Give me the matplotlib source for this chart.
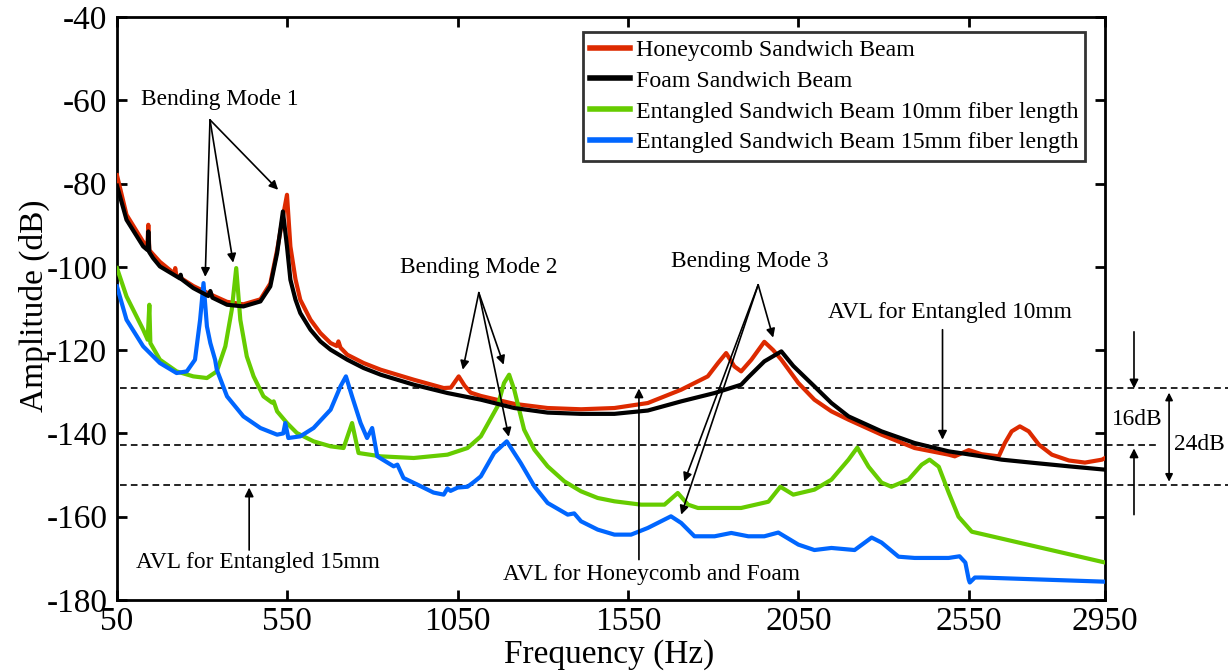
import matplotlib
matplotlib.use("Agg")
import matplotlib.pyplot as plt

plt.rcParams['font.family'] = ['Liberation Serif', 'DejaVu Serif']
plt.rcParams['axes.unicode_minus'] = False

# ---------------- data ----------------
foam_f = [50, 78, 127, 140, 142, 145, 156, 176, 225, 235, 237, 240, 274, 318, 324, 330, 373, 421, 471,
          500, 520, 537, 549, 559, 574, 588, 618, 647, 677, 726, 774, 824, 921, 1020, 1118, 1216, 1314,
          1412, 1510, 1608, 1706, 1804, 1882, 1903, 1950, 2000, 2035, 2097, 2147, 2197, 2294, 2391,
          2491, 2588, 2647, 2744, 2844, 2950]
foam_a = [-80.5, -88.7, -95.1, -96, -91.5, -96.5, -97.9, -99.9, -102.3, -102.8, -101.9, -103, -105.1,
          -107, -105.8, -107.4, -109.1, -109.5, -108.3, -104.7, -96.7, -86.7, -95.1, -103.1, -107.9,
          -111.1, -115.1, -117.9, -119.9, -122.3, -124.3, -125.9, -128.3, -130.3, -131.9, -133.9, -135,
          -135.3, -135.3, -134.5, -132.3, -130.3, -128.3, -126.5, -122.7, -120.3, -123.8, -128.7,
          -132.7, -135.9, -139.5, -142.3, -144.3, -145.5, -146.3, -147.1, -147.9, -148.7]

honey_f = [50, 78, 127, 139, 142, 145, 176, 218, 221, 224, 274, 324, 373, 421, 471, 500, 520, 537, 549,
           559, 574, 588, 618, 647, 677, 695, 700, 706, 726, 774, 824, 921, 1009, 1030, 1053, 1070, 1088,
           1118, 1216, 1314, 1412, 1510, 1608, 1706, 1784, 1814, 1838, 1862, 1882, 1912, 1950, 1976,
           2000, 2050, 2097, 2147, 2197, 2294, 2391, 2491, 2509, 2550, 2588, 2638, 2656, 2676, 2700,
           2726, 2756, 2794, 2844, 2891, 2941, 2950]
honey_a = [-78, -87.5, -94, -95.5, -89.9, -96, -98.8, -101.6, -100.3, -102, -104.6, -106.6, -108.4,
           -109, -107.8, -104, -96, -88, -82.7, -95.1, -103, -107.9, -112.7, -115.9, -118.3, -119,
           -117.9, -119.4, -121.1, -123.1, -124.7, -127.1, -129.1, -129, -126.3, -128.5, -130.2, -131,
           -132.9, -133.9, -134.2, -133.9, -132.7, -129.5, -126.3, -123.1, -120.7, -123.9, -125.1,
           -122.3, -118, -120, -122.3, -127.9, -131.9, -134.7, -136.7, -140.3, -143.5, -145.1, -145.5,
           -144, -145, -145.5, -142.3, -139.5, -138.3, -139.5, -142.7, -145.1, -146.5, -147, -146.3,
           -145.9]

ent10_f = [50, 78, 127, 140, 145, 148, 176, 225, 274, 314, 343, 368, 387, 400, 412, 431, 451, 480, 505,
           510, 520, 549, 578, 627, 677, 715, 740, 759, 824, 921, 1020, 1079, 1118, 1167, 1186, 1201,
           1216, 1245, 1275, 1314, 1363, 1412, 1461, 1510, 1588, 1657, 1696, 1726, 1755, 1882, 1962,
           1997, 2035, 2097, 2147, 2197, 2223, 2256, 2294, 2323, 2373, 2412, 2435, 2462, 2491, 2520,
           2559, 2950]
ent10_a = [-100.3, -107.1, -115.1, -117.5, -109.1, -118.3, -122.3, -125.1, -126.3, -126.7, -125.1,
           -119.1, -110.3, -100.3, -112.7, -121.5, -126.3, -131.1, -132.6, -132.3, -134.7, -137.5,
           -139.9, -141.9, -143.1, -143.5, -137.5, -144.7, -145.5, -145.9, -145.1, -143.5, -140.7,
           -133.5, -127.9, -125.9, -129.5, -139.1, -143.9, -147.9, -151.5, -153.9, -155.5, -156.3,
           -157.1, -157.1, -154.3, -157.1, -157.9, -157.9, -156.4, -152.8, -154.7, -153.5, -151.1,
           -146.3, -143.4, -148, -151.8, -152.8, -151.1, -147.5, -146.3, -148, -154.2, -160, -163.6,
           -171]

ent15_f = [50, 78, 127, 176, 225, 255, 279, 294, 304, 314, 324, 338, 343, 373, 421, 471, 520, 538, 544,
           553, 588, 627, 677, 706, 722, 740, 765, 784, 799, 814, 862, 873, 891, 932, 979, 1009, 1020,
           1029, 1050, 1079, 1100, 1118, 1157, 1194, 1235, 1275, 1314, 1373, 1392, 1412, 1461, 1510,
           1559, 1608, 1676, 1706, 1745, 1804, 1853, 1903, 1950, 1991, 2050, 2097, 2147, 2215, 2265,
           2294, 2344, 2391, 2491, 2523, 2540, 2550, 2553, 2568, 2588, 2950]
ent15_a = [-104.7, -112.7, -119.1, -123.1, -125.5, -125.1, -122.3, -112.7, -103.9, -114.3, -118.3,
           -122.3, -124.7, -131.1, -135.9, -138.7, -140.3, -140, -137.5, -141.1, -140.7, -138.7, -134.3,
           -128.7, -126.3, -131.1, -137.5, -141.1, -138.7, -145.5, -147.9, -147.5, -150.7, -152.3,
           -154.2, -154.7, -153.2, -153.8, -153, -152.8, -151.5, -150.3, -144.7, -141.9, -147.1, -152.7,
           -156.7, -159.5, -159.2, -161.1, -163.1, -164.3, -164.3, -162.7, -159.9, -161.5, -164.7,
           -164.7, -163.9, -164.7, -164.7, -163.8, -166.7, -168, -167.5, -168, -165, -166.2, -169.6,
           -169.9, -169.9, -169.5, -171, -175.1, -175.8, -174.6, -174.6, -175.6]

series_labels = ['Honeycomb Sandwich Beam', 'Foam Sandwich Beam',
                 'Entangled Sandwich Beam 10mm fiber length',
                 'Entangled Sandwich Beam 15mm fiber length']
series_colors = ['#dd2a00', '#000000', '#66cc00', '#0066ff']

avl_levels = [-129.2, -142.8, -152.3]   # honeycomb/foam, entangled 10mm, entangled 15mm

x_ticks = [50, 550, 1050, 1550, 2050, 2550, 2950]
y_ticks = [-40, -60, -80, -100, -120, -140, -160, -180]

# ---------------- figure ----------------
fig = plt.figure(figsize=(12.3, 6.71), dpi=100)
ax = fig.add_axes([0.0951, 0.1058, 0.8033, 0.8689])

lw = 3.0
ax.plot(honey_f, honey_a, color=series_colors[0], lw=lw, label=series_labels[0], zorder=3)
ax.plot(foam_f, foam_a, color=series_colors[1], lw=lw, label=series_labels[1], zorder=4)
ax.plot(ent10_f, ent10_a, color=series_colors[2], lw=lw, label=series_labels[2], zorder=3)
ax.plot(ent15_f, ent15_a, color=series_colors[3], lw=lw, label=series_labels[3], zorder=3)

ax.set_xlim(50, 2950)
ax.set_ylim(-180, -40)
ax.set_xticks(x_ticks)
ax.set_yticks(y_ticks)
ax.set_xticklabels([str(v) for v in x_ticks])
ax.set_yticklabels([str(v) for v in y_ticks])
ax.tick_params(direction='in', length=7, width=2, labelsize=24, top=True, right=True)
ax.tick_params(axis='x', pad=5)
ax.tick_params(axis='y', pad=7)
for s in ax.spines.values():
    s.set_linewidth(2)

fig.text(0.495, 0.024, 'Frequency (Hz)', ha='center', va='center', fontsize=24)
fig.text(0.028, 0.545, 'Amplitude (dB)', ha='center', va='center', fontsize=24, rotation=90)

leg = ax.legend(loc='upper right', bbox_to_anchor=(0.980, 0.974), fontsize=17.2,
                frameon=True, fancybox=False, handlelength=1.65, handletextpad=0.25,
                borderpad=0.3, labelspacing=0.38, borderaxespad=0)
leg.get_frame().set_edgecolor('black')
leg.get_frame().set_linewidth(2)
for h in leg.get_lines():
    h.set_linewidth(4)

# AVL dashed lines (extend past the axes)
dash_ends = [3310, 3110, 3310]
for lev, xe in zip(avl_levels, dash_ends):
    ax.plot([59, xe], [lev, lev], ls=(0, (4, 2.5)), color='black', lw=1.2, clip_on=False, zorder=2)

arr = dict(arrowstyle='-|>', color='black', lw=1.2, mutation_scale=13, shrinkA=0, shrinkB=0)
fs_ann = 16.8

def multi_arrow(text, text_xy, origin, targets):
    ax.text(text_xy[0], text_xy[1], text, ha='center', va='center', fontsize=fs_ann)
    for t in targets:
        ax.annotate('', xy=t, xytext=origin, arrowprops=arr, annotation_clip=False)

multi_arrow('Bending Mode 1', (353, -59.9), (323, -64.7),
            [(309, -102.4), (391, -99), (523, -81.5)])
multi_arrow('Bending Mode 2', (1112, -100.2), (1112, -106.2),
            [(1065, -124.7), (1185, -123.5), (1200, -140.8)])
multi_arrow('Bending Mode 3', (1906, -98.8), (1932, -104.3),
            [(1976, -117), (1715, -151.6), (1706, -159.5)])

multi_arrow('AVL for Entangled 10mm', (2494, -111), (2473, -115.1), [(2473, -141.5)])
multi_arrow('AVL for Entangled 15mm', (465, -171), (438, -168), [(438, -153)])
multi_arrow('AVL for Honeycomb and Foam', (1620, -173.9), (1582, -170.3), [(1582, -129.2)])

# right margin markers
ax.annotate('', xy=(3035, -129.2), xytext=(3035, -115.6), arrowprops=arr, annotation_clip=False)
ax.annotate('', xy=(3035, -143.6), xytext=(3035, -159.5), arrowprops=arr, annotation_clip=False)
ax.annotate('', xy=(3138, -130.2), xytext=(3138, -151.6),
            arrowprops=dict(arrowstyle='<|-|>', color='black', lw=1.2, mutation_scale=11,
                            shrinkA=0, shrinkB=0), annotation_clip=False)
ax.text(3044, -136.7, '16dB', ha='center', va='center', fontsize=fs_ann)
ax.text(3226, -142.7, '24dB', ha='center', va='center', fontsize=fs_ann)

fig.savefig('out.png', dpi=100)
